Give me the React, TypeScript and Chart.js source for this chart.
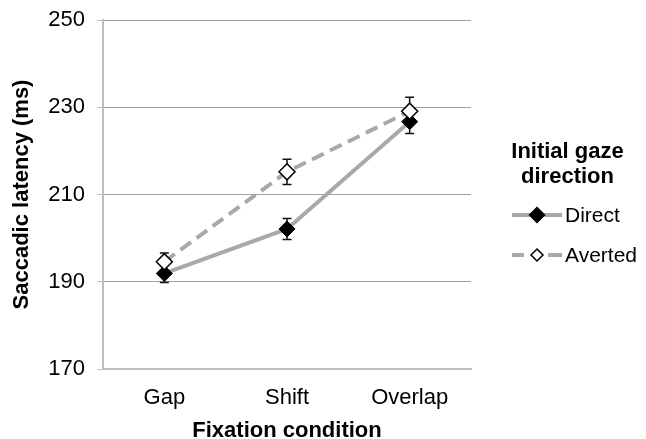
import React, { useEffect, useRef } from "react";
import { Chart, registerables } from "chart.js";

Chart.register(...registerables);

const categories = ["Gap", "Shift", "Overlap"];
const directValues = [191.9, 202.1, 226.7];
const directErrors = [2.1, 2.4, 2.7];
const avertedValues = [194.6, 215.2, 229.1];
const avertedErrors = [2.0, 2.9, 3.2];
const seriesNames = ["Direct", "Averted"];
const legendTitle = ["Initial gaze", "direction"];
const yTitle = "Saccadic latency (ms)";
const xTitle = "Fixation condition";

const FONT = "'Liberation Sans', Arial, Helvetica, sans-serif";
const LINE = "#a9a9a9";

const errorBarPlugin = {
  id: "errorBars",
  beforeDatasetsDraw(chart: any) {
    const ctx = chart.ctx;
    const y = chart.scales.y;
    const errs = [directErrors, avertedErrors];
    ctx.save();
    ctx.strokeStyle = "#111";
    ctx.lineWidth = 1.5;
    chart.data.datasets.forEach((ds: any, i: number) => {
      const meta = chart.getDatasetMeta(i);
      meta.data.forEach((pt: any, j: number) => {
        const v = ds.data[j];
        const e = errs[i][j];
        const top = y.getPixelForValue(v + e);
        const bot = y.getPixelForValue(v - e);
        const x = pt.x;
        ctx.beginPath();
        ctx.moveTo(x, top);
        ctx.lineTo(x, bot);
        ctx.moveTo(x - 4.5, top);
        ctx.lineTo(x + 4.5, top);
        ctx.moveTo(x - 4.5, bot);
        ctx.lineTo(x + 4.5, bot);
        ctx.stroke();
      });
    });
    ctx.restore();
  },
};

const legendPlugin = {
  id: "customLegend",
  afterDraw(chart: any) {
    const ctx = chart.ctx;
    ctx.save();
    ctx.fillStyle = "#000";
    ctx.font = `bold 22px ${FONT}`;
    ctx.textAlign = "center";
    ctx.textBaseline = "middle";
    legendTitle.forEach((t, i) => ctx.fillText(t, 559.5, 144 + i * 25));
    const rows = [207, 247];
    rows.forEach((ry, i) => {
      ctx.strokeStyle = LINE;
      ctx.lineWidth = 4;
      ctx.beginPath();
      if (i === 0) {
        ctx.moveTo(504, ry);
        ctx.lineTo(554, ry);
      } else {
        ctx.moveTo(504, ry);
        ctx.lineTo(516, ry);
        ctx.moveTo(540, ry);
        ctx.lineTo(554, ry);
      }
      ctx.stroke();
      const cx = 529;
      const r = i === 0 ? 7.5 : 6;
      ctx.beginPath();
      ctx.moveTo(cx, ry - r);
      ctx.lineTo(cx + r, ry);
      ctx.lineTo(cx, ry + r);
      ctx.lineTo(cx - r, ry);
      ctx.closePath();
      ctx.fillStyle = i === 0 ? "#000" : "#fff";
      ctx.fill();
      ctx.strokeStyle = "#000";
      ctx.lineWidth = 1.5;
      ctx.stroke();
      ctx.fillStyle = "#000";
      ctx.font = `21px ${FONT}`;
      ctx.textAlign = "left";
      ctx.fillText(seriesNames[i], 557, ry + 1);
    });
    ctx.restore();
  },
};

export default function App() {
  const ref = useRef<HTMLCanvasElement>(null);
  useEffect(() => {
    const chart = new Chart(ref.current as HTMLCanvasElement, {
      type: "line",
      data: {
        labels: categories,
        datasets: [
          {
            label: seriesNames[0],
            data: directValues,
            borderColor: LINE,
            borderWidth: 4,
            pointStyle: "rectRot",
            pointRadius: 8,
            pointBackgroundColor: "#000",
            pointBorderColor: "#000",
            pointBorderWidth: 1,
            order: 1,
          },
          {
            label: seriesNames[1],
            data: avertedValues,
            borderColor: LINE,
            borderWidth: 4,
            borderDash: [13, 7],
            pointStyle: "rectRot",
            pointRadius: 8,
            pointBackgroundColor: "#fff",
            pointBorderColor: "#000",
            pointBorderWidth: 1.5,
            order: 0,
          },
        ],
      },
      options: {
        responsive: false,
        animation: false,
        layout: { padding: { top: 0, right: 167, left: 0, bottom: 0 } },
        plugins: {
          legend: { display: false },
          tooltip: { enabled: false },
        },
        scales: {
          x: {
            offset: true,
            grid: { display: false, drawTicks: false },
            border: { display: true, color: "#bdbdbd", width: 2 },
            ticks: { color: "#000", font: { family: FONT, size: 22 }, padding: 16 },
            title: {
              display: true,
              text: xTitle,
              color: "#000",
              font: { family: FONT, size: 22, weight: "bold", lineHeight: 0.75 },
              padding: { top: 0, bottom: 0 },
            },
            afterFit(scale: any) {
              scale.height = 70;
            },
          },
          y: {
            min: 170,
            max: 250,
            ticks: {
              stepSize: 20,
              color: "#000",
              font: { family: FONT, size: 22 },
              padding: 12,
            },
            grid: {
              color: "#a0a0a0",
              lineWidth: 1,
              borderDash: [1, 2],
              tickColor: "#bdbdbd",
              tickBorderDash: [],
              tickLength: 6,
              tickWidth: 1,
            },
            border: { display: true, color: "#bdbdbd", width: 2 },
            title: {
              display: true,
              text: yTitle,
              color: "#000",
              font: { family: FONT, size: 22, weight: "bold", lineHeight: 1 },
              padding: { top: 3, bottom: 0 },
            },
            afterFit(scale: any) {
              scale.width = 95;
              scale.paddingTop = 12;
            },
          },
        },
      },
      plugins: [errorBarPlugin, legendPlugin],
    });
    return () => chart.destroy();
  }, []);
  return (
    <div style={{ width: 630, height: 431 }}>
      <canvas ref={ref} width={630} height={431} style={{ display: "block", width: 630, height: 431 }} />
    </div>
  );
}
